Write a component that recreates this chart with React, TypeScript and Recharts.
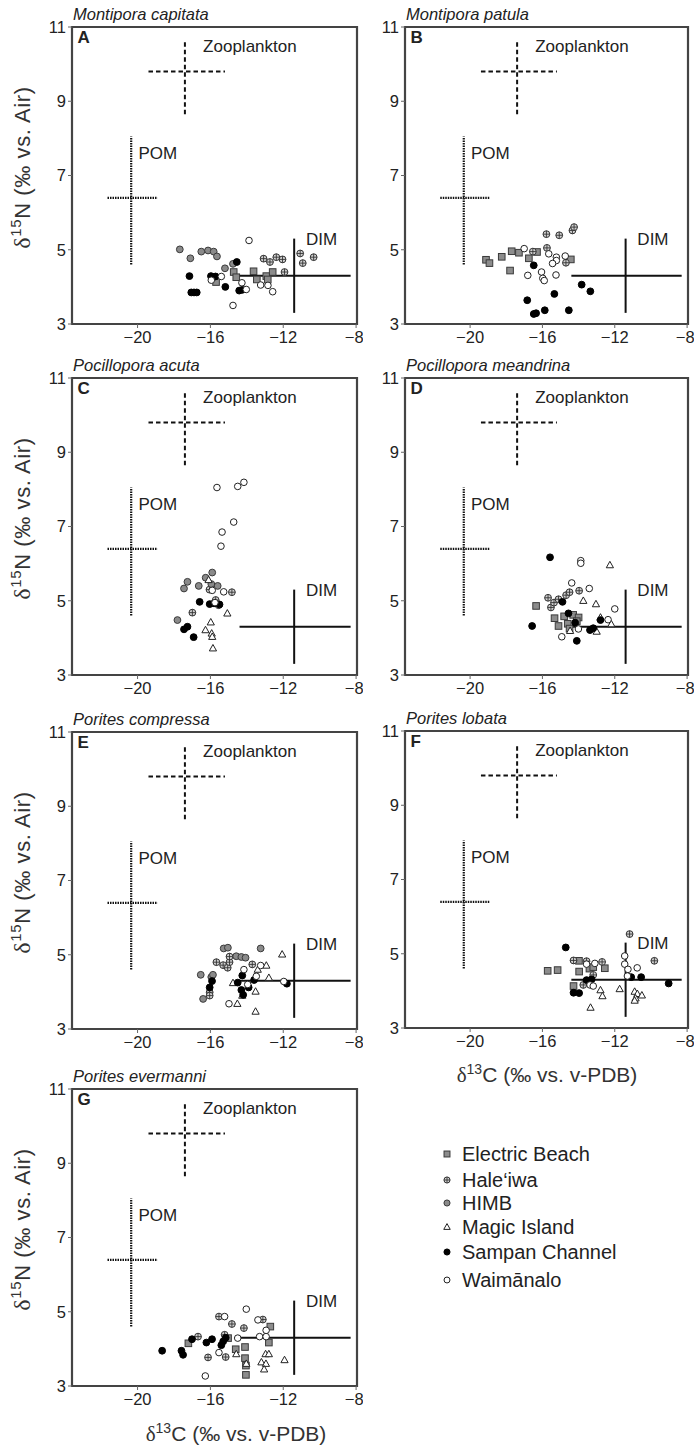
import React from 'react';
import { ScatterChart, Scatter, XAxis, YAxis, ReferenceLine, ReferenceArea } from 'recharts';

type P = [number, number];

const SITES = ['Electric Beach', 'Hale‘iwa', 'HIMB', 'Magic Island', 'Sampan Channel', 'Waimānalo'];
const SITE_KEYS = ['EB', 'HA', 'HI', 'MI', 'SC', 'WA'];

const X_TICKS = [-20, -16, -12, -8];
const Y_TICKS = [3, 5, 7, 9, 11];
const X_DOMAIN: [number, number] = [-23.6, -7.95];
const Y_DOMAIN: [number, number] = [3, 11];

// Source end-members (mean, range of the cross)
const zooplankton = { name: 'Zooplankton', x: -17.4, y: 9.8, xlo: -19.4, xhi: -15.2, ylo: 8.65, yhi: 10.6, lx: -16.4, ly: 10.5 };
const pom = { name: 'POM', x: -20.35, y: 6.4, xlo: -21.65, xhi: -18.9, ylo: 4.6, yhi: 8.05, lx: -19.95, ly: 7.6 };
const dim = { name: 'DIM', x: -11.4, y: 4.3, xlo: -14.4, xhi: -8.3, ylo: 3.3, yhi: 5.3, lx: -10.75, ly: 5.3 };

// Panel A – Montipora capitata
const capitataEB: P[] = [[-15.69, 4.13], [-14.72, 4.4], [-14.58, 4.26], [-13.63, 4.42], [-13.45, 4.2], [-12.93, 4.29], [-12.85, 4.2], [-12.58, 4.4]];
const capitataHA: P[] = [[-13.08, 4.76], [-12.73, 4.67], [-12.38, 4.8], [-12.04, 4.74], [-11.93, 4.4], [-11.07, 4.9], [-10.93, 4.64], [-10.33, 4.8]];
const capitataHI: P[] = [[-17.68, 5.01], [-17.1, 4.77], [-16.5, 4.95], [-16.13, 4.98], [-15.82, 4.95], [-15.64, 4.82], [-15.2, 4.5], [-14.76, 4.62]];
const capitataMI: P[] = [];
const capitataSC: P[] = [[-17.15, 4.29], [-17.05, 3.85], [-16.9, 3.85], [-16.75, 3.85], [-15.97, 4.29], [-15.72, 4.28], [-15.18, 4.0], [-14.55, 4.67], [-14.42, 3.9], [-14.25, 3.92]];
const capitataWA: P[] = [[-13.88, 5.25], [-15.95, 4.18], [-15.4, 4.28], [-14.27, 4.11], [-14.03, 3.93], [-13.24, 4.05], [-12.84, 4.04], [-12.58, 3.87], [-14.76, 3.5]];

// Panel B – Montipora patula
const patulaEB: P[] = [[-19.12, 4.73], [-18.93, 4.64], [-18.25, 4.81], [-17.7, 4.96], [-17.3, 4.92], [-17.79, 4.44], [-16.75, 4.77], [-16.3, 4.94], [-14.43, 4.74]];
const patulaHA: P[] = [[-15.78, 5.42], [-15.07, 5.39], [-14.34, 5.52], [-14.25, 5.61], [-16.53, 4.95], [-15.75, 5.05], [-14.7, 4.65]];
const patulaHI: P[] = [];
const patulaMI: P[] = [];
const patulaSC: P[] = [[-16.48, 4.58], [-13.83, 4.06], [-13.35, 3.88], [-16.84, 3.64], [-15.34, 3.81], [-16.48, 3.27], [-16.35, 3.29], [-15.87, 3.37], [-14.54, 3.37]];
const patulaWA: P[] = [[-17.01, 5.03], [-15.65, 4.89], [-15.23, 4.8], [-15.23, 4.71], [-15.44, 4.63], [-14.74, 4.83], [-16.81, 4.31], [-16.05, 4.4], [-15.98, 4.23], [-15.9, 4.17], [-15.25, 4.32]];

// Panel C – Pocillopora acuta
const acutaEB: P[] = [];
const acutaHA: P[] = [[-14.82, 5.23], [-16.99, 4.68], [-15.71, 5.02], [-15.55, 4.88], [-16.05, 5.3]];
const acutaHI: P[] = [[-17.26, 5.51], [-17.45, 5.33], [-16.64, 5.4], [-16.26, 5.62], [-15.9, 5.76], [-15.6, 5.4], [-17.81, 4.48], [-15.95, 5.45]];
const acutaMI: P[] = [[-15.07, 4.66], [-15.98, 4.42], [-16.27, 4.21], [-15.93, 4.12], [-15.9, 4.03], [-15.86, 3.72], [-16.1, 5.56]];
const acutaSC: P[] = [[-16.59, 4.97], [-16.04, 4.91], [-15.8, 4.93], [-15.5, 4.9], [-17.45, 4.23], [-17.26, 4.3], [-16.92, 4.02]];
const acutaWA: P[] = [[-15.64, 8.05], [-14.5, 8.08], [-14.16, 8.19], [-14.72, 7.12], [-15.36, 6.85], [-15.42, 6.47], [-15.27, 5.24], [-15.9, 5.28], [-15.75, 4.95]];

// Panel D – Pocillopora meandrina
const meandrinaEB: P[] = [[-16.35, 4.86], [-15.33, 4.53], [-15.11, 4.32], [-14.8, 4.58], [-14.6, 4.38], [-14.3, 4.62], [-14.0, 4.55], [-14.5, 4.25], [-14.1, 4.45]];
const meandrinaHA: P[] = [[-15.69, 5.08], [-15.53, 4.82], [-15.36, 4.95], [-15.11, 5.04], [-14.69, 5.15], [-14.5, 5.23], [-13.97, 5.27]];
const meandrinaHI: P[] = [];
const meandrinaMI: P[] = [[-12.27, 5.96], [-13.74, 5.0], [-13.04, 4.91], [-12.79, 4.55], [-12.19, 4.37], [-13.0, 4.17], [-14.47, 4.19]];
const meandrinaSC: P[] = [[-15.58, 6.17], [-16.57, 4.32], [-14.89, 4.97], [-14.56, 4.66], [-14.19, 4.41], [-14.1, 3.92], [-13.37, 4.21], [-13.19, 4.26], [-12.79, 4.48]];
const meandrinaWA: P[] = [[-13.88, 6.08], [-13.88, 6.01], [-14.38, 5.48], [-13.41, 5.33], [-12.0, 4.78], [-12.37, 4.49], [-14.93, 4.03], [-14.01, 4.24]];

// Panel E – Porites compressa
const compressaEB: P[] = [];
const compressaHA: P[] = [[-15.95, 4.4], [-16.04, 3.99], [-16.04, 3.9], [-15.67, 4.8], [-15.3, 4.72], [-15.05, 4.65], [-14.95, 4.8], [-14.95, 4.95], [-13.7, 4.74]];
const compressaHI: P[] = [[-16.53, 4.46], [-16.4, 3.81], [-15.86, 4.46], [-15.27, 5.17], [-15.04, 5.19], [-14.58, 4.96], [-14.3, 4.94], [-14.07, 4.92], [-13.24, 5.17]];
const compressaMI: P[] = [[-12.93, 4.71], [-12.06, 5.01], [-12.79, 4.38], [-14.76, 4.24], [-13.52, 4.01], [-14.25, 3.9], [-14.52, 3.68], [-13.52, 3.47], [-13.4, 4.6]];
const compressaSC: P[] = [[-16.04, 4.12], [-15.91, 4.29], [-14.25, 4.44], [-14.5, 4.25], [-14.3, 4.05], [-14.2, 3.92], [-13.9, 4.12], [-13.6, 4.32], [-11.8, 4.22]];
const compressaWA: P[] = [[-14.16, 4.6], [-13.48, 4.42], [-13.24, 4.71], [-14.98, 3.68], [-11.97, 4.28], [-13.95, 4.2]];

// Panel F – Porites lobata
const lobataEB: P[] = [[-15.71, 4.54], [-15.16, 4.56], [-13.98, 4.81], [-13.97, 4.52], [-13.4, 4.6], [-13.19, 4.64], [-12.55, 4.61], [-14.28, 4.13]];
const lobataHA: P[] = [[-14.28, 4.82], [-13.56, 4.8], [-12.7, 4.78], [-13.19, 4.43], [-13.74, 4.16], [-11.18, 5.53], [-9.81, 4.81]];
const lobataHI: P[] = [];
const lobataMI: P[] = [[-12.79, 4.02], [-12.68, 3.86], [-13.34, 3.55], [-11.73, 4.05], [-10.9, 3.98], [-10.75, 3.92], [-10.5, 3.88], [-10.85, 3.8], [-10.9, 3.74]];
const lobataSC: P[] = [[-14.71, 5.17], [-14.28, 3.95], [-13.97, 3.94], [-13.56, 4.29], [-13.28, 4.31], [-11.09, 4.37], [-10.54, 4.37], [-9.02, 4.2]];
const lobataWA: P[] = [[-13.56, 4.72], [-13.1, 4.74], [-11.45, 4.94], [-11.45, 4.72], [-11.27, 4.58], [-10.76, 4.62], [-13.37, 4.16], [-13.19, 4.13], [-11.3, 4.4]];

// Panel G – Porites evermanni
const evermanniEB: P[] = [[-17.21, 4.15], [-15.03, 4.29], [-14.61, 3.99], [-14.1, 4.05], [-14.1, 3.75], [-14.05, 3.55], [-14.05, 3.3], [-12.79, 4.17], [-12.71, 4.6]];
const evermanniHA: P[] = [[-16.68, 4.33], [-16.13, 3.77], [-15.53, 4.87], [-14.82, 4.67], [-15.22, 4.38], [-15.16, 3.78], [-14.16, 4.56], [-13.12, 4.79]];
const evermanniHI: P[] = [];
const evermanniMI: P[] = [[-14.58, 3.86], [-14.03, 3.6], [-12.97, 3.86], [-12.79, 3.86], [-13.2, 3.64], [-12.95, 3.6], [-13.05, 3.45], [-11.93, 3.7]];
const evermanniSC: P[] = [[-18.65, 3.95], [-17.59, 3.95], [-17.5, 3.84], [-17.01, 4.26], [-16.22, 4.17], [-15.91, 4.26], [-15.4, 4.1], [-15.3, 4.2], [-15.16, 4.3]];
const evermanniWA: P[] = [[-15.22, 4.87], [-14.03, 5.07], [-13.39, 4.78], [-14.5, 4.29], [-13.3, 4.33], [-12.94, 4.33], [-12.94, 4.5], [-15.53, 3.9], [-16.28, 3.27]];

const FONT = '"Liberation Sans", Arial, sans-serif';
const TEXT = '#222';

function Marker({ site, cx, cy, s = 1 }: { site: string; cx: number; cy: number; s?: number }) {
  if (cx == null || cy == null) return null;
  switch (site) {
    case 'EB': {
      const h = 3.3 * s;
      return <rect x={cx - h} y={cy - h} width={2 * h} height={2 * h} fill="#8c8c8c" stroke="#3a3a3a" strokeWidth={1} />;
    }
    case 'HA': {
      const r = 3.4 * s;
      return (
        <g>
          <circle cx={cx} cy={cy} r={r} fill="#d0d0d0" stroke="#333" strokeWidth={1} />
          <line x1={cx - r} y1={cy} x2={cx + r} y2={cy} stroke="#333" strokeWidth={0.9} />
          <line x1={cx} y1={cy - r} x2={cx} y2={cy + r} stroke="#333" strokeWidth={0.9} />
        </g>
      );
    }
    case 'HI':
      return <circle cx={cx} cy={cy} r={3.4 * s} fill="#8a8a8a" stroke="#3a3a3a" strokeWidth={1} />;
    case 'MI': {
      const a = 3.8 * s;
      return <polygon points={`${cx},${cy - a} ${cx + a * 0.95},${cy + a * 0.7} ${cx - a * 0.95},${cy + a * 0.7}`} fill="#fff" stroke="#222" strokeWidth={1} />;
    }
    case 'SC':
      return <circle cx={cx} cy={cy} r={3.4 * s} fill="#000" stroke="#000" strokeWidth={1} />;
    default:
      return <circle cx={cx} cy={cy} r={3.3 * s} fill="#fff" stroke="#222" strokeWidth={1} />;
  }
}

const toRows = (arr: P[]) => arr.map(([x, y]) => ({ x, y }));

type PanelDef = {
  title: string;
  letter: string;
  left: number;
  top: number;
  width: number;
  yTitle: boolean;
  xTitle?: { x: number; y: number };
  series: P[][];
};

const PLOT_H = 297;

const panels: PanelDef[] = [
  { title: 'Montipora capitata', letter: 'A', left: 72, top: 26.5, width: 285, yTitle: true, series: [capitataEB, capitataHA, capitataHI, capitataMI, capitataSC, capitataWA] },
  { title: 'Montipora patula', letter: 'B', left: 405, top: 26.5, width: 283, yTitle: false, series: [patulaEB, patulaHA, patulaHI, patulaMI, patulaSC, patulaWA] },
  { title: 'Pocillopora acuta', letter: 'C', left: 72, top: 377.5, width: 285, yTitle: true, series: [acutaEB, acutaHA, acutaHI, acutaMI, acutaSC, acutaWA] },
  { title: 'Pocillopora meandrina', letter: 'D', left: 405, top: 377.5, width: 283, yTitle: false, series: [meandrinaEB, meandrinaHA, meandrinaHI, meandrinaMI, meandrinaSC, meandrinaWA] },
  { title: 'Porites compressa', letter: 'E', left: 72, top: 731.5, width: 285, yTitle: true, series: [compressaEB, compressaHA, compressaHI, compressaMI, compressaSC, compressaWA] },
  { title: 'Porites lobata', letter: 'F', left: 405, top: 731, width: 283, yTitle: false, xTitle: { x: 547, y: 1082 }, series: [lobataEB, lobataHA, lobataHI, lobataMI, lobataSC, lobataWA] },
  { title: 'Porites evermanni', letter: 'G', left: 72, top: 1088.5, width: 285, yTitle: true, xTitle: { x: 236, y: 1441 }, series: [evermanniEB, evermanniHA, evermanniHI, evermanniMI, evermanniSC, evermanniWA] },
];

const fmt = (v: number) => (v < 0 ? '\u2212' + Math.abs(v) : String(v));

const textShape = (label: string, size: number, weight: string | number = 'normal') => (p: any) => (
  <text x={p.cx} y={p.cy} dy="0.35em" fontSize={size} fontFamily={FONT} fontWeight={weight} fill={TEXT}>
    {label}
  </text>
);

function Panel({ def }: { def: PanelDef }) {
  const marginTop = 10;
  const yAxisW = 72;
  const chartW = yAxisW + def.width + 6;
  const chartH = marginTop + PLOT_H + 30;
  const sources = [
    { s: zooplankton, dash: '4.5 3', w: 2 },
    { s: pom, dash: '1.5 1', w: 2.2 },
    { s: dim, dash: undefined, w: 2 },
  ];
  return (
    <div style={{ position: 'absolute', left: def.left - yAxisW, top: def.top - marginTop, width: chartW, height: chartH }}>
      <ScatterChart width={chartW} height={chartH} margin={{ top: marginTop, right: 6, left: 0, bottom: 0 }}>
        <XAxis
          type="number"
          dataKey="x"
          domain={X_DOMAIN}
          ticks={X_TICKS}
          allowDataOverflow
          axisLine={false}
          tickLine={{ stroke: '#666' }}
          tickSize={4}
          tickMargin={3}
          tickFormatter={fmt}
          height={30}
          tick={{ fontSize: 16.5, fill: TEXT, fontFamily: FONT }}
        />
        <YAxis
          type="number"
          dataKey="y"
          domain={Y_DOMAIN}
          ticks={Y_TICKS}
          allowDataOverflow
          axisLine={false}
          tickLine={{ stroke: '#666' }}
          tickSize={4}
          tickMargin={2}
          width={yAxisW}
          tick={{ fontSize: 16.5, fill: TEXT, fontFamily: FONT }}
        />
        {sources.map(({ s, dash, w }) => (
          <ReferenceLine key={s.name + 'h'} segment={[{ x: s.xlo, y: s.y }, { x: s.xhi, y: s.y }]} stroke="#111" strokeWidth={w} strokeDasharray={dash} />
        ))}
        {sources.map(({ s, dash, w }) => (
          <ReferenceLine key={s.name + 'v'} segment={[{ x: s.x, y: s.ylo }, { x: s.x, y: s.yhi }]} stroke="#111" strokeWidth={w} strokeDasharray={dash} />
        ))}
        {sources.map(({ s }) => (
          <Scatter key={s.name + 'l'} data={[{ x: s.lx, y: s.ly }]} shape={textShape(s.name, 17)} isAnimationActive={false} />
        ))}
        <Scatter data={[{ x: -23.3, y: 10.72 }]} shape={textShape(def.letter, 17, 'bold')} isAnimationActive={false} />
        {def.series.map((arr, i) => (
          <Scatter
            key={SITE_KEYS[i]}
            name={SITES[i]}
            data={toRows(arr)}
            isAnimationActive={false}
            shape={(p: any) => <Marker site={SITE_KEYS[i]} cx={p.cx} cy={p.cy} />}
          />
        ))}
        <ReferenceArea x1={X_DOMAIN[0]} x2={X_DOMAIN[1]} y1={Y_DOMAIN[0]} y2={Y_DOMAIN[1]} fill="none" stroke="#444" strokeWidth={2.2} ifOverflow="visible" />
      </ScatterChart>
    </div>
  );
}

const LEGEND_Y = [1154, 1180, 1203, 1227, 1252, 1280];

export default function App() {
  return (
    <div style={{ position: 'absolute', left: 0, top: 0, width: 694, height: 1449, background: '#fff', overflow: 'hidden' }}>
      {panels.map((p) => (
        <Panel key={p.letter} def={p} />
      ))}
      <svg width={694} height={1449} style={{ position: 'absolute', left: 0, top: 0, pointerEvents: 'none' }}>
        {panels.map((p) => (
          <text key={p.letter + 't'} x={p.left + 1} y={p.top - 7} fontSize={16.5} fontStyle="italic" fontFamily={FONT} fill={TEXT}>
            {p.title}
          </text>
        ))}
        {panels
          .filter((p) => p.yTitle)
          .map((p) => (
            <text
              key={p.letter + 'y'}
              transform={`translate(30, ${p.top + 141}) rotate(-90)`}
              textAnchor="middle"
              fontSize={22}
              letterSpacing={0.6}
              fontFamily={FONT}
              fill="#333"
            >
              <tspan fontFamily='"Liberation Serif", serif' fontSize={24}>δ</tspan>
              <tspan fontSize={15} dy={-9}>15</tspan>
              <tspan dy={9}>N (‰ vs. Air)</tspan>
            </text>
          ))}
        {panels
          .filter((p) => p.xTitle)
          .map((p) => (
            <text key={p.letter + 'x'} x={p.xTitle!.x} y={p.xTitle!.y} textAnchor="middle" fontSize={21} fontFamily={FONT} fill="#333">
              <tspan fontFamily='"Liberation Serif", serif'>δ</tspan>
              <tspan fontSize={14} dy={-8}>13</tspan>
              <tspan dy={8}>C (‰ vs. v-PDB)</tspan>
            </text>
          ))}
        {SITES.map((name, i) => (
          <g key={name}>
            <Marker site={SITE_KEYS[i]} cx={447} cy={LEGEND_Y[i]} s={0.9} />
            <text x={462} y={LEGEND_Y[i] + 7} fontSize={20} fontFamily={FONT} fill={TEXT}>
              {name}
            </text>
          </g>
        ))}
      </svg>
    </div>
  );
}
